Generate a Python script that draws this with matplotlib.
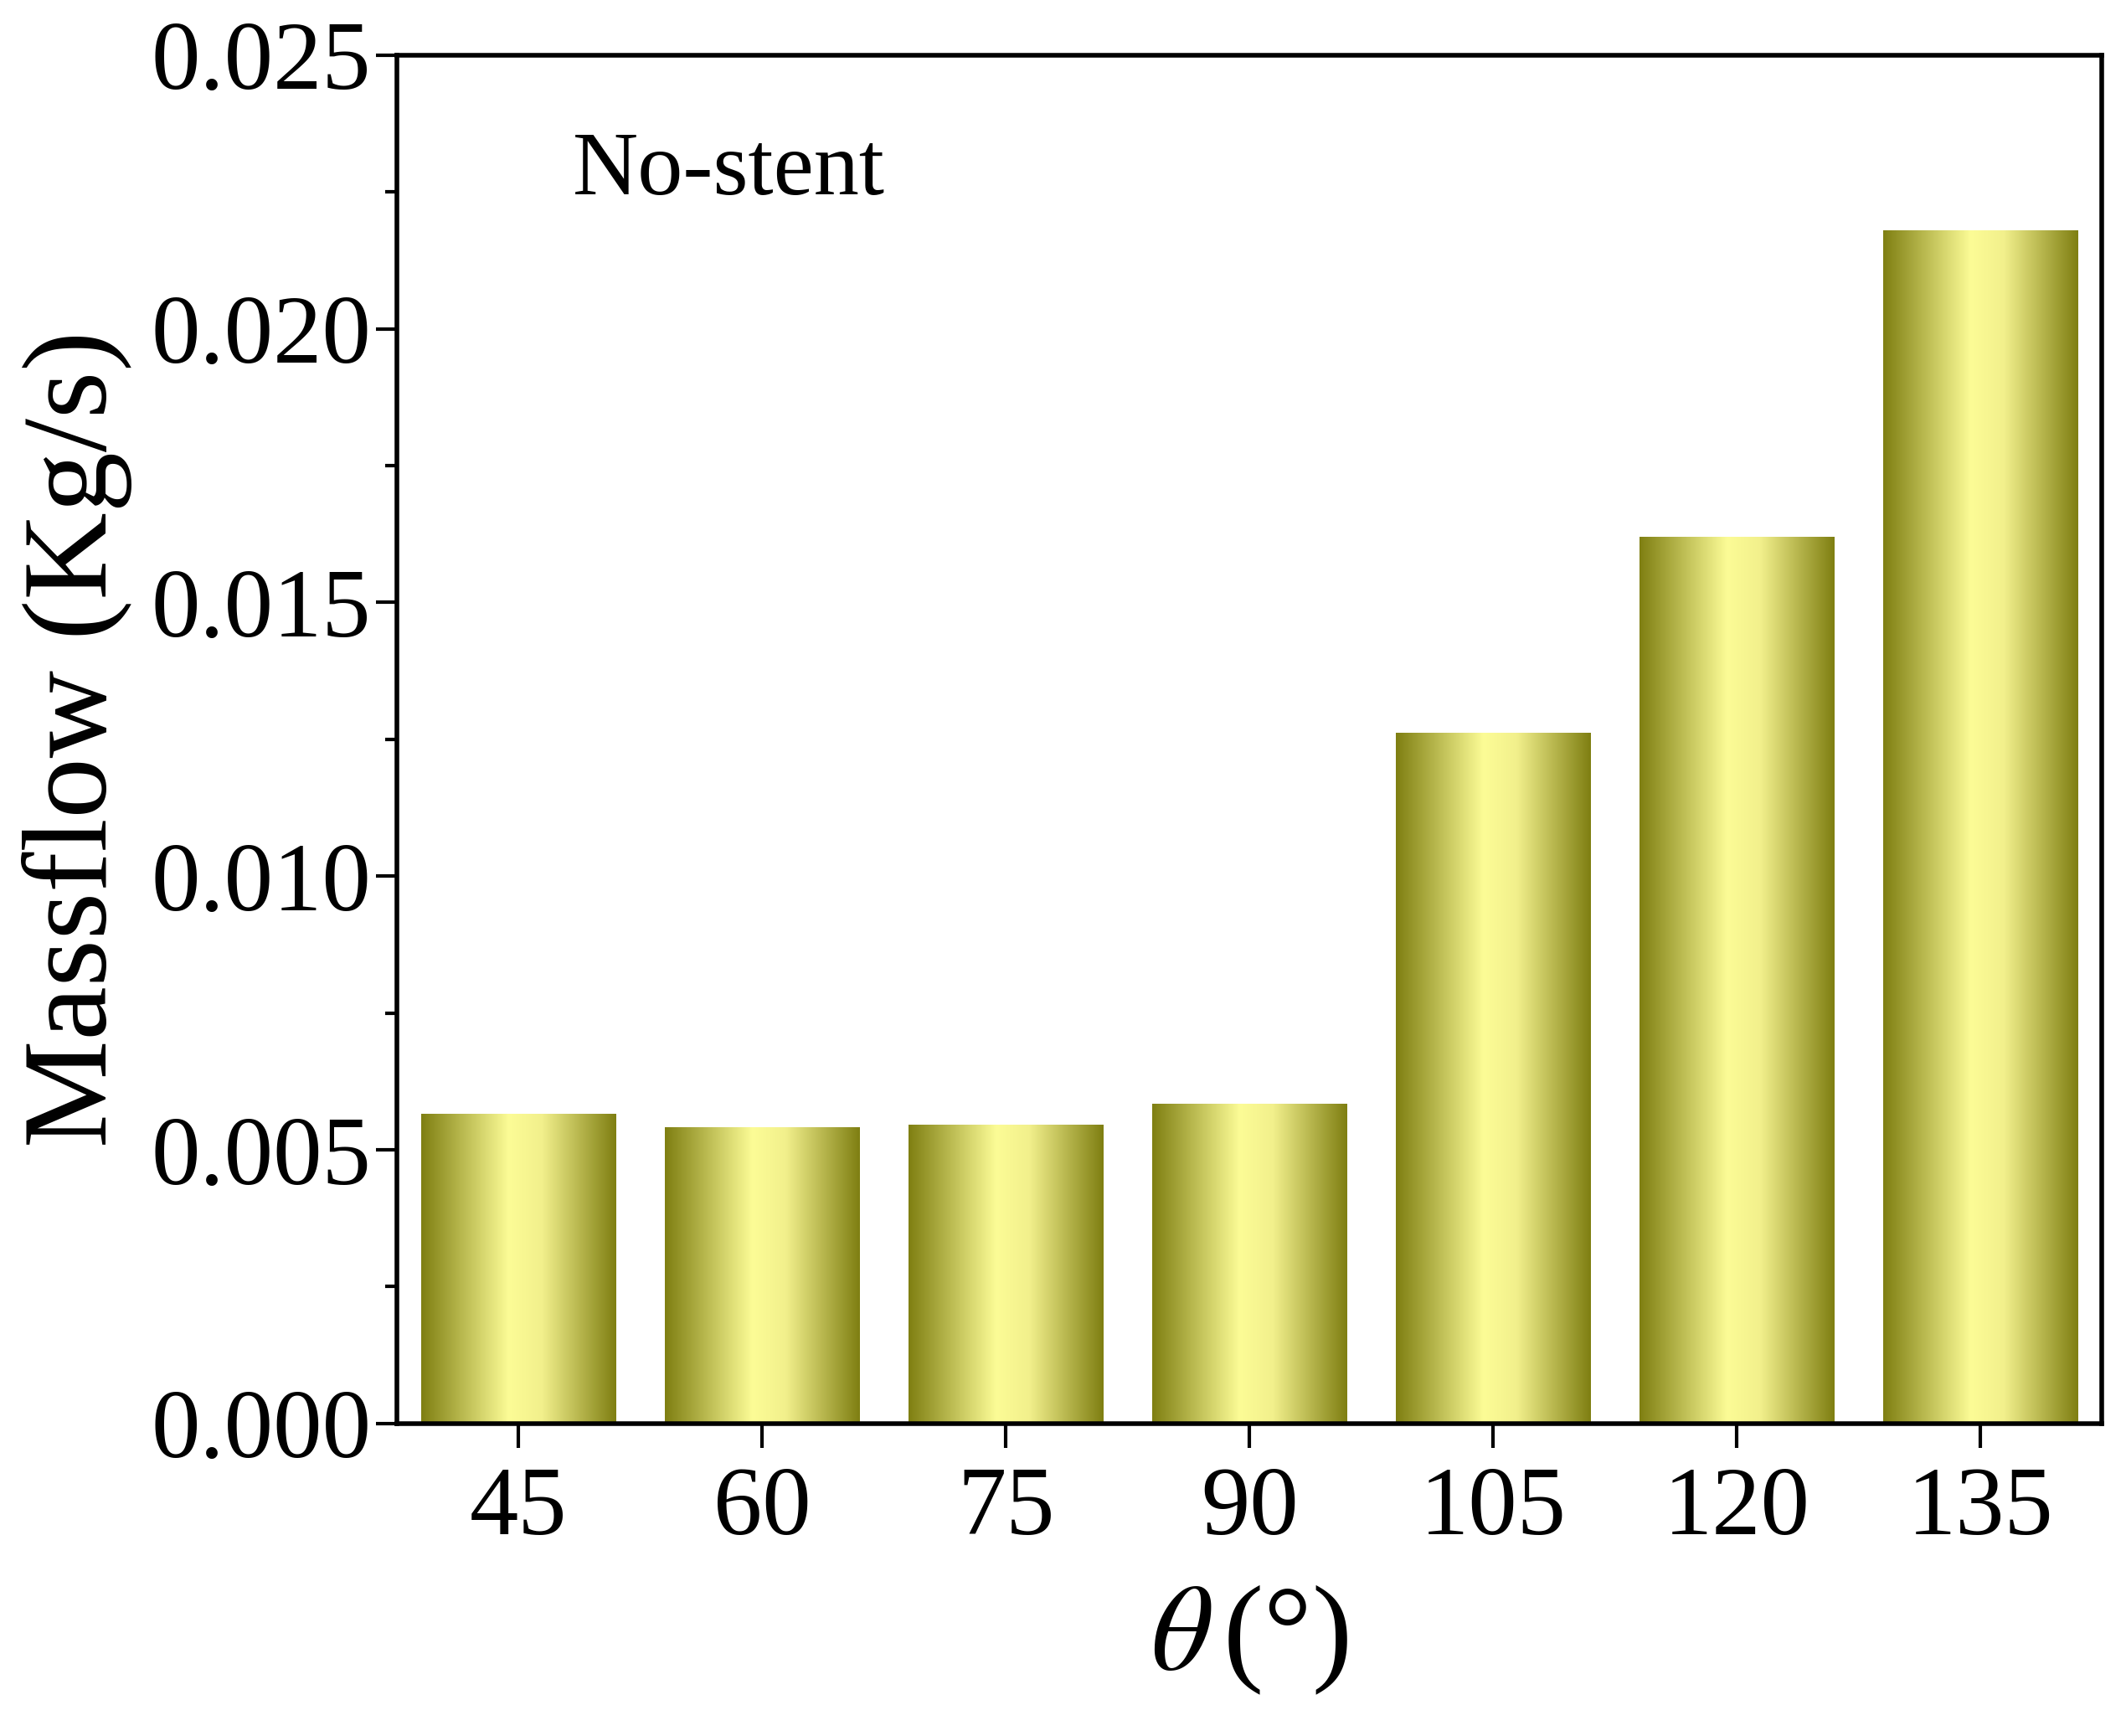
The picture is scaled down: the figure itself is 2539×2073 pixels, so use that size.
import numpy as np
import matplotlib
matplotlib.use("Agg")
import matplotlib.pyplot as plt
from matplotlib.colors import LinearSegmentedColormap
from matplotlib.ticker import MultipleLocator

angles = ["45", "60", "75", "90", "105", "120", "135"]
massflow = [0.00565, 0.00541, 0.00545, 0.00584, 0.01261, 0.0162, 0.0218]

plt.rcParams['font.family'] = ['Liberation Serif', 'DejaVu Serif']
plt.rcParams['mathtext.fontset'] = 'stix'

# olive -> pale yellow -> olive, like the shaded bars of the original
shade = LinearSegmentedColormap.from_list(
    "olive", [(0.0, "#7f7f12"), (0.45, "#fcfc96"), (0.62, "#f2f08c"), (1.0, "#7f7f12")])

fig = plt.figure(figsize=(25.39, 20.73), dpi=100)
ax = fig.add_axes([0.1867, 0.18, 0.802, 0.7883])

x = np.arange(len(angles))
bars = ax.bar(x, massflow, width=0.8, color="none", edgecolor="none", zorder=2)

grad = np.linspace(0, 1, 256).reshape(1, -1)
for b in bars:
    x0, w, h = b.get_x(), b.get_width(), b.get_height()
    ax.imshow(grad, cmap=shade, extent=[x0, x0 + w, 0, h], aspect="auto",
              interpolation="bilinear", zorder=2)

ax.set_xlim(-0.5, len(angles) - 0.5)
ax.set_ylim(0, 0.025)
ax.set_xticks(x)
ax.set_xticklabels(angles)
ax.yaxis.set_major_locator(MultipleLocator(0.005))
ax.yaxis.set_minor_locator(MultipleLocator(0.0025))
ax.yaxis.set_major_formatter(matplotlib.ticker.FormatStrFormatter("%.3f"))

for s in ax.spines.values():
    s.set_linewidth(4)
ax.tick_params(axis="both", which="major", labelsize=84, width=3, direction="out")
ax.tick_params(axis="x", which="major", length=21, pad=16)
ax.tick_params(axis="y", which="major", length=18, pad=4)
ax.tick_params(axis="y", which="minor", length=10, width=3)
ax.tick_params(axis="x", which="minor", bottom=False)

ax.set_ylabel("Massflow (Kg/s)", fontsize=104, labelpad=16)
ax.set_xlabel(r"$\theta\,$(°)", fontsize=104, labelpad=24)

ax.text(0.103, 0.914, "No-stent", transform=ax.transAxes, fontsize=78,
        va="center", ha="left")

fig.savefig("out.png", dpi=100)
